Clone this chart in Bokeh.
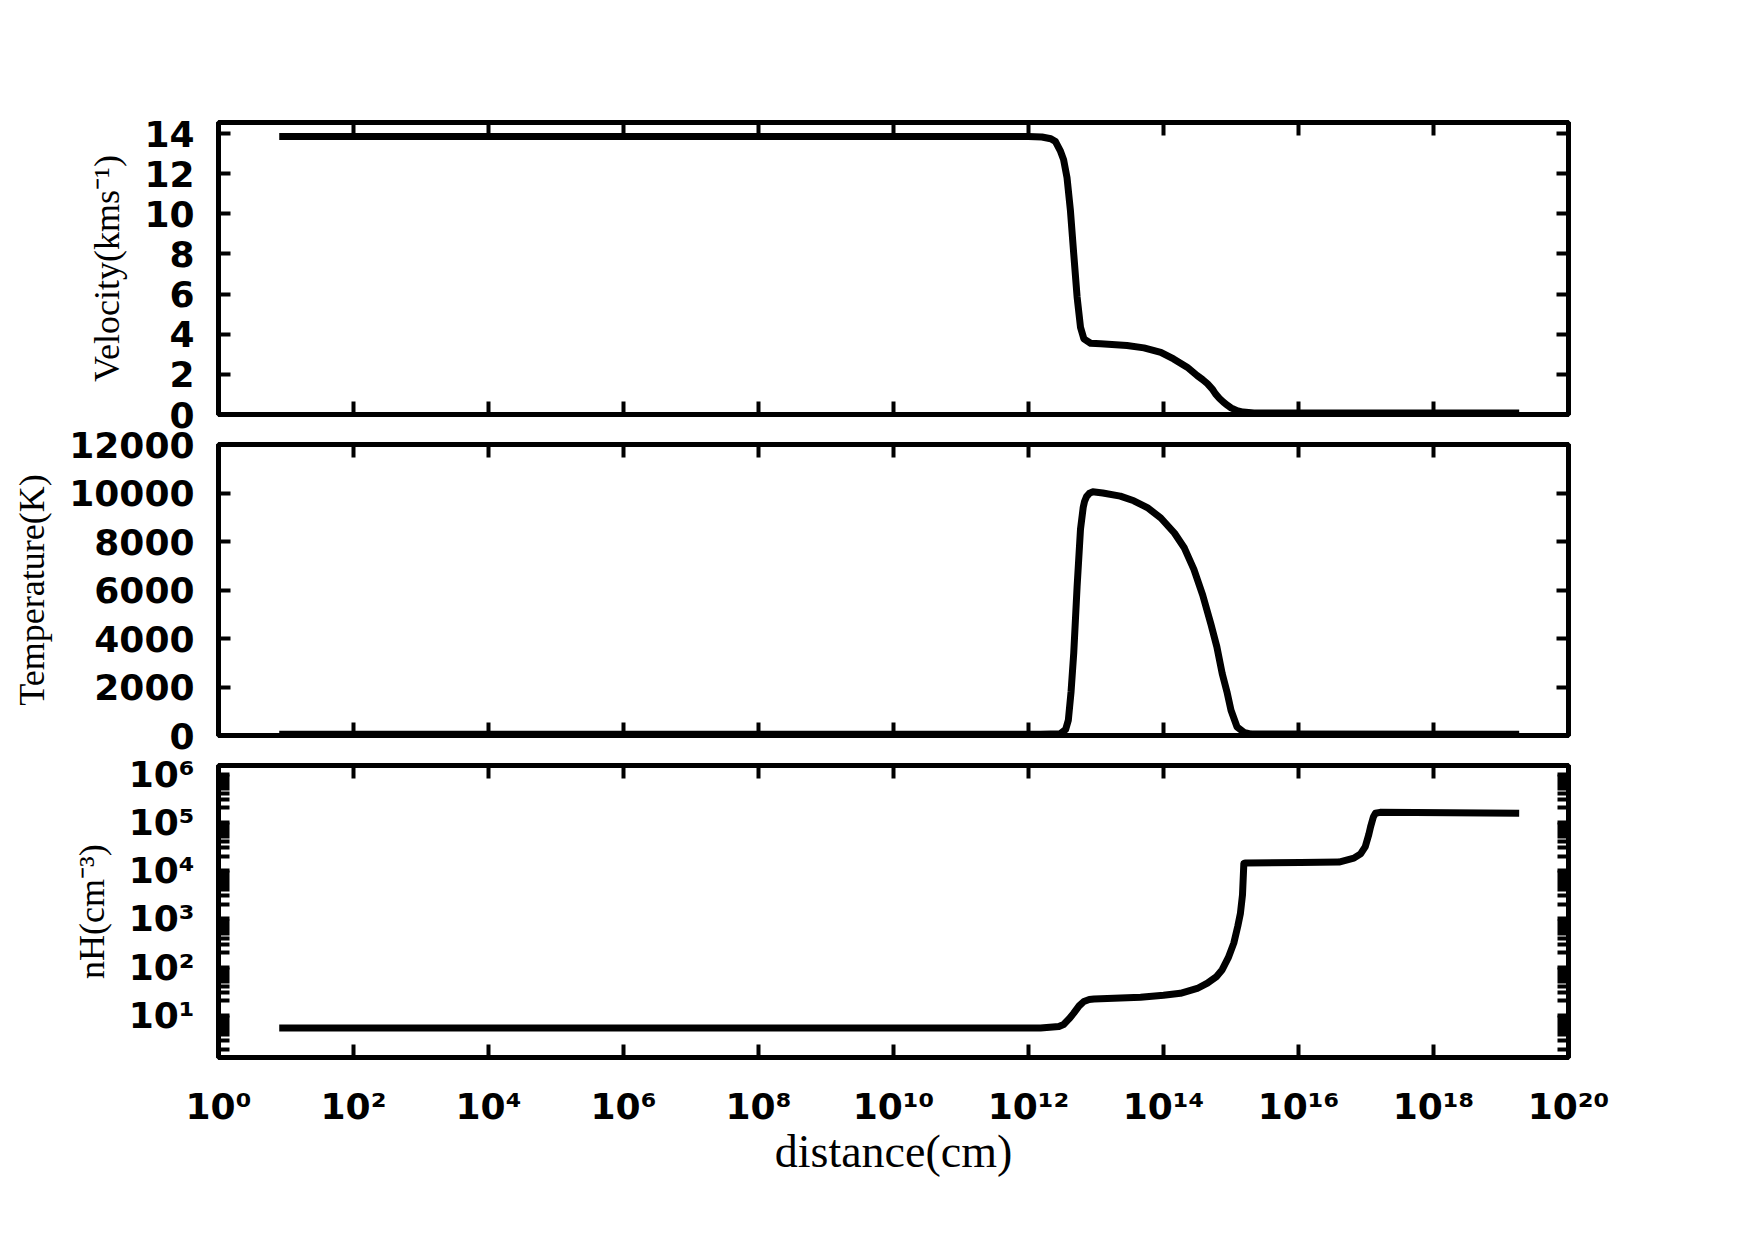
from bokeh.plotting import figure
from bokeh.models import Range1d, FixedTicker, LinearAxis, LogAxis, CustomJSTickFormatter
from bokeh.layouts import column
from bokeh.embed import file_html
from bokeh.resources import INLINE

# ---------------- data ----------------
vel_dist = [7.94, 1.0e12, 1.58e12, 2.14e12, 2.51e12, 2.95e12, 3.31e12, 3.72e12, 4.17e12,
            4.68e12, 5.25e12, 5.89e12, 6.61e12, 8.32e12, 1.17e13, 2.88e13, 5.13e13, 9.12e13,
            1.41e14, 2.24e14, 3.16e14, 3.80e14, 4.47e14, 5.25e14, 5.89e14, 6.76e14, 7.76e14,
            8.91e14, 1.0e15, 1.23e15, 1.51e15, 2.19e15, 1.86e19]
velocity = [13.85, 13.85, 13.83, 13.74, 13.6, 13.15, 12.7, 11.8, 10.2,
            8.0, 5.85, 4.35, 3.77, 3.55, 3.52, 3.44, 3.32, 3.1,
            2.77, 2.36, 1.94, 1.74, 1.54, 1.28, 1.03, 0.8, 0.61,
            0.45, 0.33, 0.19, 0.12, 0.08, 0.08]

temp_dist = [7.94, 1.51e12, 2.95e12, 3.55e12, 3.89e12, 4.27e12, 4.68e12, 5.25e12, 5.89e12,
             6.46e12, 6.76e12, 7.24e12, 7.94e12, 8.91e12, 1.26e13, 2.29e13, 3.63e13, 5.75e13,
             9.12e13, 1.45e14, 2.04e14, 2.82e14, 3.80e14, 5.01e14, 6.17e14, 7.41e14, 8.71e14,
             1.0e15, 1.23e15, 1.55e15, 2.0e15, 1.86e19]
temperature = [50, 50, 70, 250, 630, 1800, 3400, 6150, 8500,
               9400, 9650, 9850, 9980, 10050, 10000, 9870, 9680, 9400,
               8970, 8350, 7730, 6850, 5800, 4620, 3660, 2550, 1800,
               1040, 350, 130, 60, 50]

dens_dist = [7.94, 1.51e12, 2.82e12, 3.31e12, 3.98e12, 4.68e12, 5.62e12, 6.61e12, 7.94e12,
             9.33e12, 4.57e13, 1.0e14, 1.78e14, 3.16e14, 4.47e14, 6.03e14, 7.41e14, 9.12e14,
             1.10e15, 1.26e15, 1.38e15, 1.48e15, 1.55e15, 1.66e15, 1.07e16, 3.98e16, 6.61e16,
             8.32e16, 9.77e16, 1.10e17, 1.17e17, 1.29e17, 1.38e17, 1.62e17, 1.86e19]
density = [5.5, 5.5, 5.9, 6.5, 8.5, 11.2, 15.8, 19.5, 21.4,
           21.9, 24.0, 26.3, 28.8, 36.3, 46.8, 63.1, 89.1, 158,
           316, 708, 1318, 3162, 14125, 14500, 14791, 15136, 18197,
           22387, 31623, 56234, 81283, 131826, 154882, 162181, 154882]

x_ticks = [1e0, 1e2, 1e4, 1e6, 1e8, 1e10, 1e12, 1e14, 1e16, 1e18, 1e20]
x_tick_labels = ["10⁰", "10²", "10⁴", "10⁶", "10⁸", "10¹⁰", "10¹²", "10¹⁴", "10¹⁶", "10¹⁸", "10²⁰"]
v_ticks = [0, 2, 4, 6, 8, 10, 12, 14]
t_ticks = [0, 2000, 4000, 6000, 8000, 10000, 12000]
n_ticks = [1e1, 1e2, 1e3, 1e4, 1e5, 1e6]
n_tick_labels = ["10¹", "10²", "10³", "10⁴", "10⁵", "10⁶"]
n_minor = [m * 10.0 ** e for e in range(0, 7) for m in range(2, 10)]

# ---------------- styling helpers ----------------
TICK_FONT = "DejaVu Sans"
LABEL_FONT = "Liberation Serif"
LW = 5

def fmt(tvals, tlabels):
    return CustomJSTickFormatter(args=dict(tvals=tvals, tlabels=tlabels), code="""
        for (let i = 0; i < tvals.length; i++) {
            if (Math.abs(Math.log10(tvals[i]) - Math.log10(tick)) < 1e-6) { return tlabels[i]; }
        }
        return "";
    """)

def style_axis(ax, show_labels, tick_len=12, minor=False, standoff=24):
    ax.axis_line_color = "black"
    ax.axis_line_width = LW
    ax.major_tick_line_color = "black"
    ax.major_tick_line_width = 4
    ax.major_tick_in = tick_len
    ax.major_tick_out = 0
    if minor:
        ax.minor_tick_line_color = "black"
        ax.minor_tick_line_width = 4
        ax.minor_tick_in = tick_len
        ax.minor_tick_out = 0
    else:
        ax.minor_tick_in = 0
        ax.minor_tick_out = 0
        ax.minor_tick_line_color = None
    ax.major_label_text_font = TICK_FONT
    ax.major_label_text_font_style = "bold"
    ax.major_label_text_color = "black"
    if show_labels:
        ax.major_label_text_font_size = "36px"
        ax.major_label_standoff = standoff
    else:
        ax.major_label_text_font_size = "1px"
        ax.major_label_text_alpha = 0
        ax.major_label_standoff = 0
    ax.axis_label_text_font = LABEL_FONT
    ax.axis_label_text_font_style = "normal"
    ax.axis_label_text_color = "black"


def make_fig(y_type, y_range, top, bottom, fh, y_ticker, y_label, show_x_labels,
             y_formatter=None, minor_y=False, y_tick_len=12, shift=0):
    p = figure(x_axis_type="log", y_axis_type=y_type,
               x_range=Range1d(1, 1e20), y_range=y_range,
               frame_width=1350, frame_height=fh,
               min_border_left=218, min_border_right=139,
               min_border_top=top, min_border_bottom=bottom,
               margin=(shift, 0, 0, 0),
               output_backend="svg", toolbar_location=None)
    p.grid.visible = False
    p.outline_line_color = "black"
    p.outline_line_width = LW
    p.background_fill_color = "white"
    p.border_fill_color = None

    bottom_ax = p.xaxis[0]
    bottom_ax.ticker = FixedTicker(ticks=x_ticks, minor_ticks=[])
    bottom_ax.formatter = fmt(x_ticks, x_tick_labels)
    style_axis(bottom_ax, show_x_labels, tick_len=13, standoff=28)
    top_ax = LogAxis(ticker=FixedTicker(ticks=x_ticks, minor_ticks=[]))
    style_axis(top_ax, False, tick_len=13)
    p.add_layout(top_ax, "above")

    left_ax = p.yaxis[0]
    left_ax.ticker = y_ticker
    if y_formatter is not None:
        left_ax.formatter = y_formatter
    style_axis(left_ax, True, tick_len=y_tick_len, minor=minor_y, standoff=24)
    left_ax.axis_label = y_label
    left_ax.axis_label_text_font_size = "36px"
    left_ax.axis_label_standoff = 14
    if y_type == "log":
        r_ax = LogAxis(ticker=y_ticker)
    else:
        r_ax = LinearAxis(ticker=y_ticker)
    style_axis(r_ax, False, tick_len=y_tick_len, minor=minor_y)
    p.add_layout(r_ax, "right")
    return p, bottom_ax

# ---------------- panels ----------------
p1, _ = make_fig("linear", Range1d(0, 14.55), 122, 35, 292,
                 FixedTicker(ticks=v_ticks, minor_ticks=[]), "Velocity(kms⁻¹)", False)
p1.line(vel_dist, velocity, line_color="black", line_width=7, line_join="round")

p2, _ = make_fig("linear", Range1d(0, 12000), 35, 35, 291,
                 FixedTicker(ticks=t_ticks, minor_ticks=[]), "Temperature(K)", False, shift=-40)
p2.line(temp_dist, temperature, line_color="black", line_width=7, line_join="round")

p3, ax3 = make_fig("log", Range1d(10 ** 0.13, 10 ** 6.18), 35, 150, 292,
                   FixedTicker(ticks=n_ticks, minor_ticks=n_minor), "nH(cm⁻³)", True,
                   y_formatter=fmt(n_ticks, n_tick_labels), minor_y=True, y_tick_len=11, shift=-40)
p3.line(dens_dist, density, line_color="black", line_width=7, line_join="round")
ax3.axis_label = "distance(cm)"
ax3.axis_label_text_font_size = "46px"
ax3.axis_label_standoff = -4

layout = column(p1, p2, p3, spacing=0)

open("out.html", "w").write(file_html(layout, INLINE))
